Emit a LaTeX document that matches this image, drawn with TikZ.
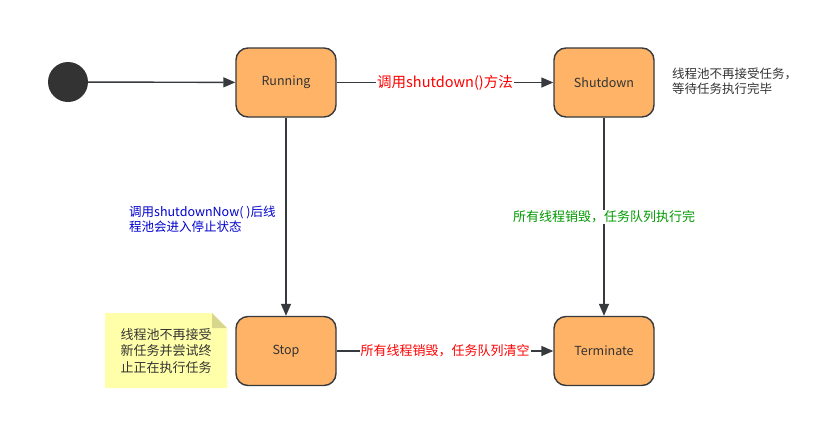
\documentclass[tikz,border=0pt]{standalone}
\usepackage{fontspec}
\setmainfont{Noto Sans CJK SC}
\usetikzlibrary{arrows.meta,positioning}
\definecolor{stfill}{RGB}{255,179,102}
\definecolor{stline}{RGB}{54,57,61}
\definecolor{notefill}{RGB}{255,255,170}
\definecolor{notefold}{RGB}{214,214,140}
\definecolor{txtgrey}{RGB}{51,51,51}
\definecolor{lblblue}{RGB}{0,0,204}
\definecolor{lblgreen}{RGB}{0,153,0}

\tikzset{
  state/.style={draw=stline, fill=stfill, line width=1.4pt, rounded corners=12pt,
    minimum width=100pt, minimum height=69pt, font=\fontsize{12.5}{14}\selectfont, text=txtgrey},
  arr/.style={draw=stline, line width=1.4pt, -{Triangle[length=12pt,width=10pt]}},
  lbl/.style={fill=white, inner sep=1pt, font=\fontsize{13}{15}\selectfont}
}

\begin{document}
\begin{tikzpicture}[x=1pt,y=-1pt]
\useasboundingbox (0,0) rectangle (836,421);
% states
\node[circle, fill=txtgrey, minimum size=40pt, inner sep=0pt] (init) at (68,82) {};
\node[state] (run) at (286,82.5) {Running};
\node[state] (shut) at (604,82.5) {Shutdown};
\node[state] (stop) at (286,351) {Stop};
\node[state] (term) at (604,351) {Terminate};
% transitions
\draw[arr] (init) -- (run);
\draw[arr] (run) -- node[lbl, text=red, font=\fontsize{14.5}{16}\selectfont] {调用shutdown()方法} (shut);
\draw[arr] (run) -- (stop);
\draw[arr] (shut) -- node[lbl, text=lblgreen] {所有线程销毁，任务队列执行完} (term);
\draw[arr] (stop) -- node[lbl, text=red] {所有线程销毁，任务队列清空} (term);
\node[anchor=west, align=left, inner sep=0pt, text=lblblue, font=\fontsize{12.5}{15}\selectfont] (nowlbl) at (129,219) {调用shutdownNow( )后线\\程池会进入停止状态};
% notes
\node[anchor=west, align=left, inner sep=0pt, text=txtgrey, font=\fontsize{12.5}{15}\selectfont] (shutnote) at (672,81) {线程池不再接受任务，\\等待任务执行完毕};
\fill[notefill] (105,313) -- (212,313) -- (227,328) -- (227,388) -- (105,388) -- cycle;
\fill[notefold] (212,313) -- (212,328) -- (227,328) -- cycle;
\node[align=center, inner sep=0pt, text=txtgrey, font=\fontsize{13}{16.5}\selectfont] (stopnote) at (166,351) {线程池不再接受\\新任务并尝试终\\止正在执行任务};
\end{tikzpicture}
\end{document}
